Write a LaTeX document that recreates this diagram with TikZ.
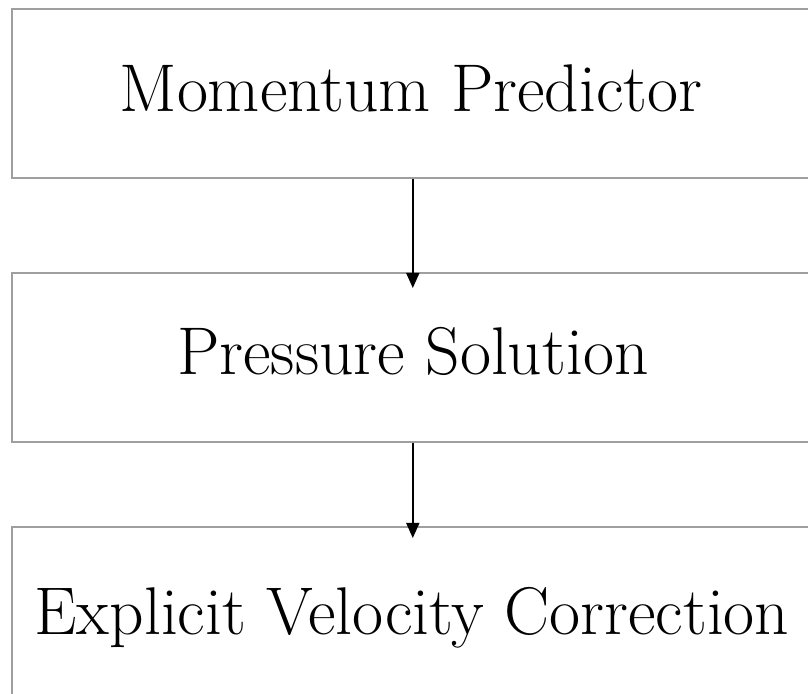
\documentclass[tikz,border=0pt]{standalone}
\usetikzlibrary{arrows.meta}
\begin{document}
\begin{tikzpicture}[x=1pt,y=1pt,
  box/.style={draw=gray!75,line width=1.6pt,minimum width=802pt,minimum height=169pt,inner sep=0pt,anchor=north west},
  lbl/.style={anchor=base,inner sep=0pt,font=\fontsize{67.5}{72}\selectfont},
  flow/.style={line width=1.6pt,-{Triangle[length=15pt,width=13pt]}}]
\useasboundingbox (0,0) rectangle (808,693);
\node[box] (b1) at (11,685) {};
\node[box] (b2) at (11,421) {};
\node[box,minimum height=190pt] (b3) at (11,167) {};
\node[lbl] (t1) at (411,581) {Momentum Predictor};
\node[lbl] (t2) at (413,318) {Pressure Solution};
\node[lbl] (t3) at (412,58) {Explicit Velocity Correction};
\draw[flow] (b1.south) -- ([yshift=-16pt]b2.north);
\draw[flow] (b2.south) -- ([yshift=-12pt]b3.north);
\end{tikzpicture}
\end{document}
